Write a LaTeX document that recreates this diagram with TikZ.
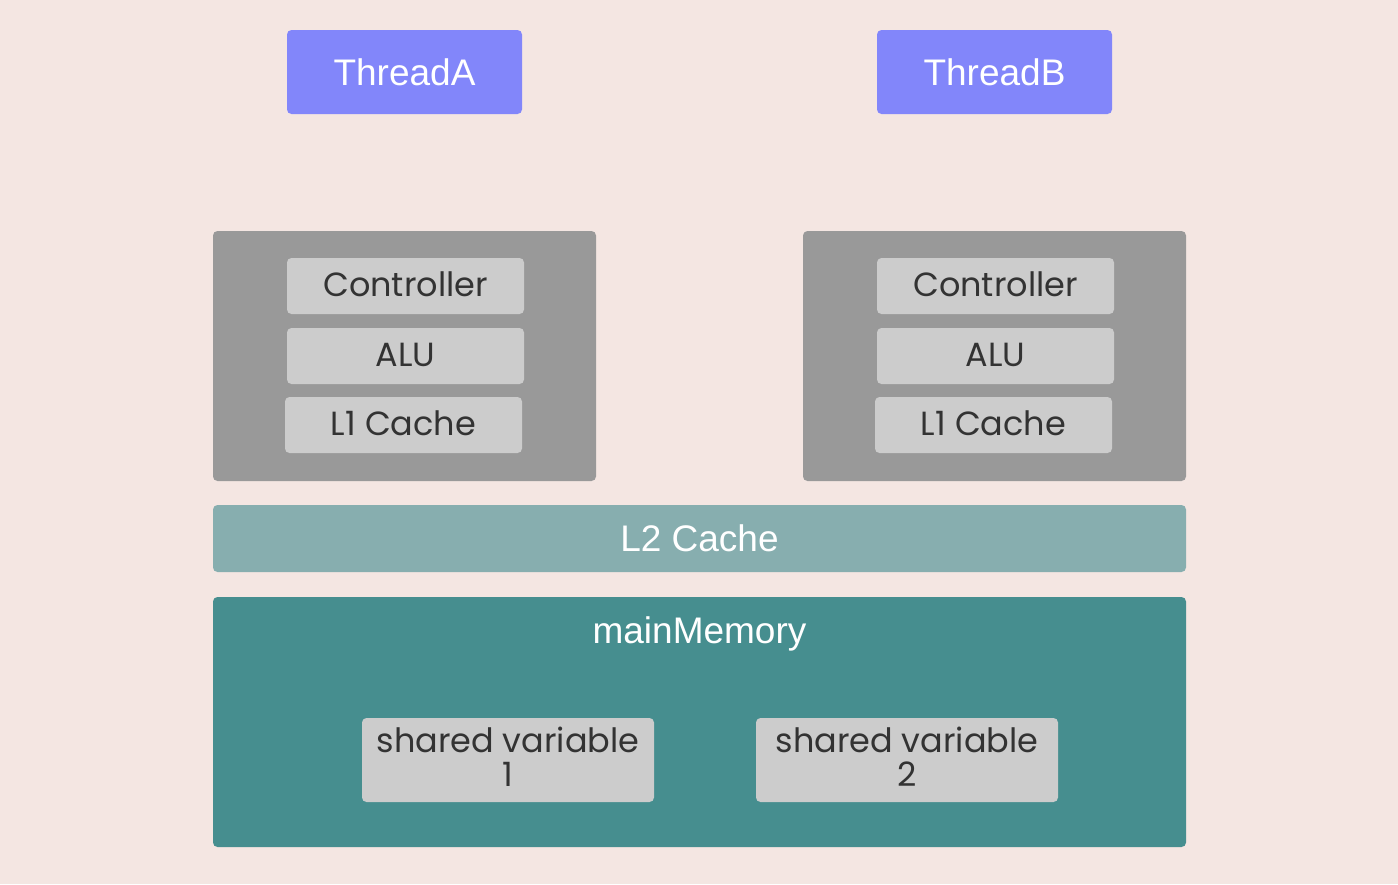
\documentclass[tikz,border=0pt]{standalone}
\usepackage{fontspec}
\newfontfamily\wfont{Liberation Sans}
\newfontfamily\gfont{Poppins}
\definecolor{bg}{HTML}{F4E6E2}
\definecolor{threadblue}{HTML}{8286FA}
\definecolor{cpugray}{HTML}{999999}
\definecolor{partgray}{HTML}{CCCCCC}
\definecolor{ltwo}{HTML}{87AEAF}
\definecolor{mainmem}{HTML}{468E8F}
\definecolor{txt}{HTML}{333333}
\tikzset{
  box/.style={rounded corners=4.5pt, inner sep=0pt, draw=none},
  thread/.style={box, fill=threadblue, minimum width=235pt, minimum height=84pt,
    font=\wfont\fontsize{37}{44}\selectfont, text=white, text height=26pt, text depth=0pt},
  cpu/.style={box, fill=cpugray, minimum width=383pt, minimum height=250pt},
  part/.style={box, fill=partgray, minimum width=237pt, minimum height=56pt,
    font=\gfont\fontsize{33.5}{34}\selectfont, text=txt, text height=20pt, text depth=0pt},
  ltwobox/.style={box, fill=ltwo, minimum width=973pt, minimum height=67pt,
    font=\wfont\fontsize{37}{44}\selectfont, text=white, text height=26pt, text depth=0pt},
  membox/.style={box, fill=mainmem, minimum width=973pt, minimum height=250pt},
  memtitle/.style={inner sep=0pt, font=\wfont\fontsize{37}{44}\selectfont, text=white},
  shared/.style={box, fill=partgray, minimum height=84pt},
  sharedtext/.style={inner sep=0pt, align=center, font=\gfont\fontsize{33.5}{34}\selectfont, text=txt}
}
\begin{document}
\begin{tikzpicture}[x=1pt,y=-1pt]
\fill[bg] (0,0) rectangle (1398,884);
\useasboundingbox (0,0) rectangle (1398,884);
\node[thread] (ta) at (404.5,72) {ThreadA};
\node[thread] (tb) at (994.5,72) {ThreadB};
\node[cpu] (cpua) at (404.5,356) {};
\node[cpu] (cpub) at (994.5,356) {};
\node[part] (ctla) at (405.5,286) {Controller};
\node[part] (alua) at (405.5,356) {ALU};
\node[part] (l1a) at (403.5,425) {L1 Cache};
\node[part] (ctlb) at (995.5,286) {Controller};
\node[part] (alub) at (995.5,356) {ALU};
\node[part] (l1b) at (993.5,425) {L1 Cache};
\node[ltwobox] (l2) at (699.5,538.5) {L2 Cache};
\node[membox] (mem) at (699.5,722) {};
\node[memtitle, anchor=base] (memt) at (699.5,643) {mainMemory};
\node[shared, minimum width=292pt] (sv1) at (508,760) {};
\node[sharedtext] (sv1t) at (508,757) {shared variable\\1};
\node[shared, minimum width=302pt] (sv2) at (907,760) {};
\node[sharedtext] (sv2t) at (907,757) {shared variable\\2};
\end{tikzpicture}
\end{document}
